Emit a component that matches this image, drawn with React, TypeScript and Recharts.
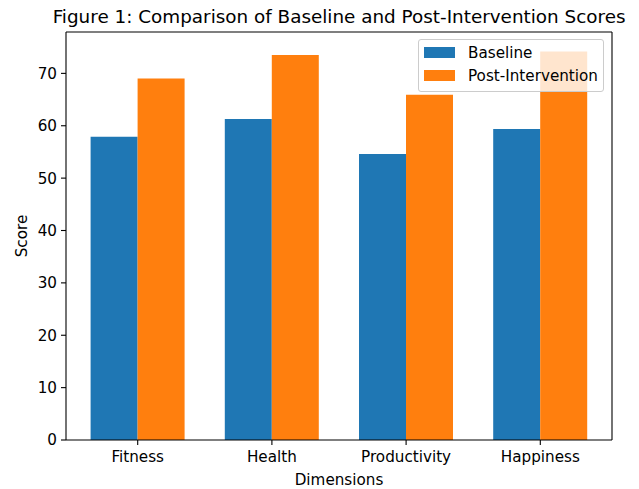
import {
  Bar,
  BarChart,
  Label,
  Legend,
  XAxis,
  YAxis,
} from "recharts";

const categories = ["Fitness", "Health", "Productivity", "Happiness"];
const baselineScores = [57.9, 61.3, 54.6, 59.4];
const postScores = [69.0, 73.5, 65.9, 74.2];
const yTicks = [0, 10, 20, 30, 40, 50, 60, 70];

const seriesNames = ["Baseline", "Post-Intervention"];
const seriesColors = ["#1f77b4", "#ff7f0e"];

const FONT = "'DejaVu Sans', sans-serif";
const FS = 15.2;

const data = categories.map((name, i) => ({
  name,
  baseline: baselineScores[i],
  post: postScores[i],
}));

function LegendBox() {
  return (
    <div
      style={{
        width: 184,
        height: 50,
        border: "1px solid #cccccc",
        borderRadius: 3,
        background: "rgba(255,255,255,0.8)",
        paddingTop: 1,
        fontFamily: FONT,
        fontSize: 15.2,
        color: "#000",
        boxSizing: "content-box",
      }}
    >
      {seriesNames.map((n, i) => (
        <div
          key={n}
          style={{ height: 23, display: "flex", alignItems: "center" }}
        >
          <div
            style={{
              width: 31,
              height: 11,
              marginLeft: 5,
              marginRight: 13,
              background: seriesColors[i],
              flexShrink: 0,
            }}
          />
          <span style={{ whiteSpace: "nowrap" }}>{n}</span>
        </div>
      ))}
    </div>
  );
}

export default function App() {
  return (
    <div
      style={{
        position: "absolute",
        left: 0,
        top: 0,
        width: 639,
        height: 489,
        background: "#fff",
        fontFamily: FONT,
      }}
    >
      <div
        style={{
          position: "absolute",
          left: 0,
          top: 8.5,
          width: 678,
          textAlign: "center",
          fontSize: 17,
          lineHeight: "17px",
          color: "#000",
          whiteSpace: "nowrap",
          transform: "scaleX(1.08)",
          transformOrigin: "338px 0",
        }}
      >
        Figure 1: Comparison of Baseline and Post-Intervention Scores
      </div>
      <BarChart
        width={639}
        height={489}
        data={data}
        margin={{ top: 31, right: 26, bottom: 19, left: 26 }}
        barCategoryGap={20}
        barGap={0}
      >
        <XAxis
          dataKey="name"
          height={30}
          padding={{ left: 4.6, right: 4.6 }}
          axisLine={{ stroke: "#000", strokeWidth: 1.1 }}
          tickLine={{ stroke: "#000", strokeWidth: 1.1 }}
          tickSize={5}
          tickMargin={6}
          tick={{ fill: "#000", fontSize: FS, fontFamily: FONT }}
        >
          <Label
            content={({ viewBox }: any) => (
              <text
                x={viewBox.x + viewBox.width / 2}
                y={485}
                textAnchor="middle"
                fontSize={FS}
                fontFamily={FONT}
                fill="#000"
              >
                Dimensions
              </text>
            )}
          />
        </XAxis>
        <XAxis
          xAxisId="top"
          orientation="top"
          dataKey="name"
          height={1}
          padding={{ left: 4.6, right: 4.6 }}
          tick={false}
          tickLine={false}
          axisLine={{ stroke: "#000", strokeWidth: 1.1 }}
        />
        <YAxis
          width={40}
          domain={[0, 77.9]}
          ticks={yTicks}
          allowDataOverflow
          axisLine={{ stroke: "#000", strokeWidth: 1.1 }}
          tickLine={{ stroke: "#000", strokeWidth: 1.1 }}
          tickSize={5}
          tickMargin={4}
          tick={{ fill: "#000", fontSize: FS, fontFamily: FONT }}
        >
          <Label
            content={({ viewBox }: any) => {
              const cy = viewBox.y + viewBox.height / 2;
              return (
                <text
                  x={27}
                  y={cy}
                  transform={`rotate(-90, 27, ${cy})`}
                  textAnchor="middle"
                  fontSize={FS}
                  fontFamily={FONT}
                  fill="#000"
                >
                  Score
                </text>
              );
            }}
          />
        </YAxis>
        <YAxis
          yAxisId="right"
          orientation="right"
          width={1}
          domain={[0, 77.9]}
          tick={false}
          tickLine={false}
          axisLine={{ stroke: "#000", strokeWidth: 1.1 }}
        />
        <Legend
          layout="horizontal"
          verticalAlign="middle"
          align="center"
          wrapperStyle={{ left: 418, top: 39, width: 186 }}
          content={() => <LegendBox />}
        />
        <Bar
          dataKey="baseline"
          name={seriesNames[0]}
          fill={seriesColors[0]}
          isAnimationActive={false}
        />
        <Bar
          dataKey="post"
          name={seriesNames[1]}
          fill={seriesColors[1]}
          isAnimationActive={false}
        />
      </BarChart>
    </div>
  );
}
